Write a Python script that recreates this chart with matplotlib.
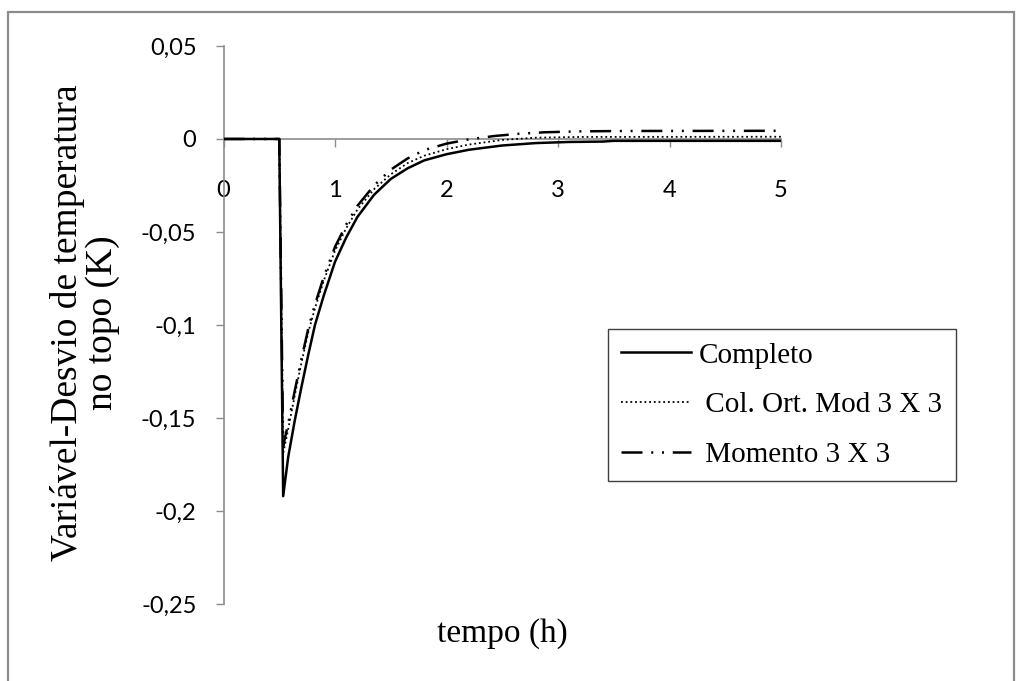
import matplotlib
matplotlib.use("Agg")
import matplotlib.pyplot as plt
from matplotlib.patches import Rectangle

# valores (tempo em h, desvio em K)
t_completo = [0, 0.5, 0.535, 0.58, 0.64, 0.70, 0.76, 0.82, 0.90, 1.00, 1.10, 1.20,
              1.35, 1.50, 1.65, 1.80, 2.00, 2.20, 2.50, 2.80, 3.10, 3.40, 3.50, 5.0]
y_completo = [0, 0, -0.192, -0.171, -0.151, -0.133, -0.116, -0.100, -0.084, -0.066,
              -0.053, -0.042, -0.030, -0.0215, -0.0158, -0.0115, -0.0082, -0.0058,
              -0.0035, -0.0022, -0.0016, -0.0014, -0.001, -0.001]

t_colort = [0, 0.5, 0.535, 0.58, 0.64, 0.70, 0.76, 0.82, 0.90, 1.00, 1.10, 1.20,
            1.35, 1.50, 1.65, 1.80, 2.00, 2.20, 2.50, 2.80, 3.20, 5.0]
y_colort = [0, 0, -0.169, -0.156, -0.1375, -0.120, -0.104, -0.091, -0.076, -0.060,
            -0.048, -0.038, -0.027, -0.019, -0.013, -0.009, -0.0055, -0.003,
            -0.0005, 0.0007, 0.0011, 0.0012]

t_momento = [0, 0.5, 0.535, 0.58, 0.64, 0.70, 0.76, 0.82, 0.90, 1.00, 1.10, 1.20,
             1.35, 1.50, 1.65, 1.80, 2.00, 2.20, 2.43, 2.65, 2.88, 3.20, 3.60, 5.0]
y_momento = [0, 0, -0.165, -0.153, -0.135, -0.118, -0.102, -0.089, -0.074, -0.058,
             -0.046, -0.036, -0.025, -0.0165, -0.0105, -0.006, -0.0025, -0.0002,
             0.0016, 0.0028, 0.0036, 0.0041, 0.0043, 0.0044]

yticks = [0.05, 0, -0.05, -0.1, -0.15, -0.2, -0.25]
ytick_labels = ['0,05', '0', '-0,05', '-0,1', '-0,15', '-0,2', '-0,25']
xticks = [0, 1, 2, 3, 4, 5]

gray = '#8c8c8c'

fig = plt.figure(figsize=(10.16, 6.81), dpi=100)
ax = fig.add_axes([0.22, 0.113, 0.5487, 0.8195])

ax.plot(t_completo, y_completo, color='black', lw=1.8, label='Completo', zorder=3)
ax.plot(t_colort, y_colort, color='black', lw=1.3, linestyle=(0, (1, 1.6)),
        label=' Col. Ort. Mod 3 X 3', zorder=3)
ax.plot(t_momento, y_momento, color='black', lw=1.8,
        linestyle=(0, (8.4, 3.5, 0.8, 3.5, 0.8, 3.5)), label=' Momento 3 X 3', zorder=3)

ax.set_xlim(0, 5)
ax.set_ylim(-0.25, 0.05)

ax.spines['top'].set_visible(False)
ax.spines['right'].set_visible(False)
ax.spines['bottom'].set_position(('data', 0))
for s in ('left', 'bottom'):
    ax.spines[s].set_color(gray)
    ax.spines[s].set_linewidth(1.2)

ax.set_yticks(yticks)
ax.set_yticklabels(ytick_labels)
ax.set_xticks(xticks)
ax.set_xticklabels([str(x) for x in xticks])
ax.tick_params(axis='y', direction='out', length=5.5, width=1, color=gray, pad=14,
               labelsize=17)
ax.tick_params(axis='x', direction='out', length=5.5, width=1, color=gray, pad=24,
               labelsize=17)
for lab in ax.get_xticklabels() + ax.get_yticklabels():
    lab.set_fontfamily('Lato')

ax.set_xlabel('tempo (h)', fontfamily='Liberation Serif', fontsize=24, va='top')
ax.xaxis.set_label_coords(0.5, -0.025)
ax.set_ylabel('Variável-Desvio de temperatura\nno topo (K)', fontfamily='Liberation Serif',
              fontsize=27, linespacing=1.0)
ax.yaxis.set_label_coords(-0.186, 0.505)

leg = ax.legend(loc='upper left', bbox_to_anchor=(608 / 1016, 1 - 329 / 681),
                bbox_transform=fig.transFigure, borderaxespad=0, fancybox=False,
                frameon=True, framealpha=1, edgecolor='#404040',
                prop={'family': 'Liberation Serif', 'size': 21},
                handlelength=2.4, handletextpad=0.25, labelspacing=0.8,
                borderpad=0.45)
leg.get_frame().set_linewidth(1.0)

fig.patches.append(Rectangle((8 / 1016, -0.05), 1006 / 1016, 1.05 - 12 / 681,
                             transform=fig.transFigure, fill=False,
                             edgecolor=gray, lw=1.6))

fig.savefig('out.png', dpi=100)
